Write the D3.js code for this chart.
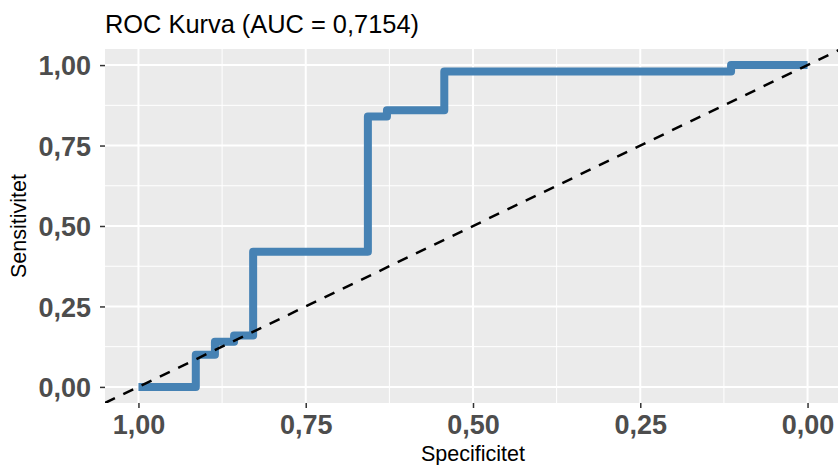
<!DOCTYPE html>
<html>
<head>
<meta charset="utf-8">
<script src="https://cdn.jsdelivr.net/npm/d3@7"></script>
<style>
  html, body { margin: 0; padding: 0; background: #ffffff; }
  svg { display: block; font-family: "Liberation Sans", Arial, Helvetica, sans-serif; }
</style>
</head>
<body>
<svg id="chart" width="838" height="465"></svg>
<script>
// ROC curve coordinates (specificity, sensitivity), in path order
const specificity = [1.0000, 0.9143, 0.9143, 0.8857, 0.8857, 0.8571, 0.8571, 0.8286, 0.8286,
                     0.6571, 0.6571, 0.6286, 0.6286, 0.5429, 0.5429, 0.1143, 0.1143, 0.0000];
const sensitivity = [0.00, 0.00, 0.10, 0.10, 0.14, 0.14, 0.16, 0.16, 0.42,
                     0.42, 0.84, 0.84, 0.86, 0.86, 0.98, 0.98, 1.00, 1.00];
const xTicks = [1.00, 0.75, 0.50, 0.25, 0.00];
const yTicks = [0.00, 0.25, 0.50, 0.75, 1.00];
const xMinor = [0.875, 0.625, 0.375, 0.125];
const yMinor = [0.125, 0.375, 0.625, 0.875];
const titleText = "ROC Kurva (AUC = 0,7154)";
const xTitle = "Specificitet";
const yTitle = "Sensitivitet";

const fmt = v => d3.format(".2f")(v).replace(".", ",");

const svg = d3.select("#chart");
const panel = { left: 105, top: 49, right: 841, bottom: 403 };

const x = d3.scaleLinear().domain([1.05, -0.05]).range([panel.left, panel.right]);
const y = d3.scaleLinear().domain([-0.05, 1.05]).range([panel.bottom, panel.top]);

svg.append("defs").append("clipPath").attr("id", "clip")
  .append("rect")
  .attr("x", panel.left).attr("y", panel.top)
  .attr("width", panel.right - panel.left).attr("height", panel.bottom - panel.top);

// panel background
svg.append("rect")
  .attr("x", panel.left).attr("y", panel.top)
  .attr("width", panel.right - panel.left).attr("height", panel.bottom - panel.top)
  .attr("fill", "#ebebeb");

const grid = svg.append("g");
// minor grid
grid.selectAll(".xminor").data(xMinor).enter().append("line")
  .attr("x1", d => x(d)).attr("x2", d => x(d))
  .attr("y1", panel.top).attr("y2", panel.bottom)
  .attr("stroke", "#ffffff").attr("stroke-width", 1);
grid.selectAll(".yminor").data(yMinor).enter().append("line")
  .attr("y1", d => y(d)).attr("y2", d => y(d))
  .attr("x1", panel.left).attr("x2", panel.right)
  .attr("stroke", "#ffffff").attr("stroke-width", 1);
// major grid
grid.selectAll(".xmajor").data(xTicks).enter().append("line")
  .attr("x1", d => x(d)).attr("x2", d => x(d))
  .attr("y1", panel.top).attr("y2", panel.bottom)
  .attr("stroke", "#ffffff").attr("stroke-width", 2);
grid.selectAll(".ymajor").data(yTicks).enter().append("line")
  .attr("y1", d => y(d)).attr("y2", d => y(d))
  .attr("x1", panel.left).attr("x2", panel.right)
  .attr("stroke", "#ffffff").attr("stroke-width", 2);

const plot = svg.append("g").attr("clip-path", "url(#clip)");

// ROC path
const pts = specificity.map((s, i) => [s, sensitivity[i]]);
plot.append("path")
  .datum(pts)
  .attr("d", d3.line().x(d => x(d[0])).y(d => y(d[1])))
  .attr("fill", "none")
  .attr("stroke", "#4682b4")
  .attr("stroke-width", 8)
  .attr("stroke-linejoin", "round")
  .attr("stroke-linecap", "butt");

// diagonal reference line (sensitivity = 1 - specificity)
const diag = [[1.05, -0.05], [-0.05, 1.05]];
plot.append("path")
  .datum(diag)
  .attr("d", d3.line().x(d => x(d[0])).y(d => y(d[1])))
  .attr("fill", "none")
  .attr("stroke", "#000000")
  .attr("stroke-width", 2.5)
  .attr("stroke-dasharray", "11,9.3");

// axes
const xAxis = svg.append("g")
  .attr("transform", `translate(0,${panel.bottom})`)
  .call(d3.axisBottom(x).tickValues(xTicks).tickFormat(fmt).tickSize(5).tickPadding(5));
const yAxis = svg.append("g")
  .attr("transform", `translate(${panel.left},0)`)
  .call(d3.axisLeft(y).tickValues(yTicks).tickFormat(fmt).tickSize(5).tickPadding(9));

[xAxis, yAxis].forEach(a => {
  a.select(".domain").remove();
  a.selectAll(".tick line").attr("stroke", "#333333").attr("stroke-width", 1.5);
  a.selectAll(".tick text")
    .attr("fill", "#4d4d4d")
    .attr("font-size", 27)
    .attr("font-weight", "bold")
    .attr("font-family", "'Liberation Sans', Arial, sans-serif");
});
xAxis.selectAll(".tick text").attr("dy", null).attr("y", 0)
  .attr("transform", "translate(0,31)");
yAxis.selectAll(".tick text").attr("dy", "0.36em");

// titles
svg.append("text")
  .attr("x", panel.left).attr("y", 33)
  .attr("font-size", 25.4).attr("fill", "#000")
  .text(titleText);

svg.append("text")
  .attr("x", (panel.left + panel.right) / 2).attr("y", 461)
  .attr("text-anchor", "middle")
  .attr("font-size", 21.5).attr("fill", "#000")
  .text(xTitle);

svg.append("text")
  .attr("transform", `translate(26,${(panel.top + panel.bottom) / 2}) rotate(-90)`)
  .attr("text-anchor", "middle")
  .attr("font-size", 21.5).attr("fill", "#000")
  .text(yTitle);
</script>
</body>
</html>
